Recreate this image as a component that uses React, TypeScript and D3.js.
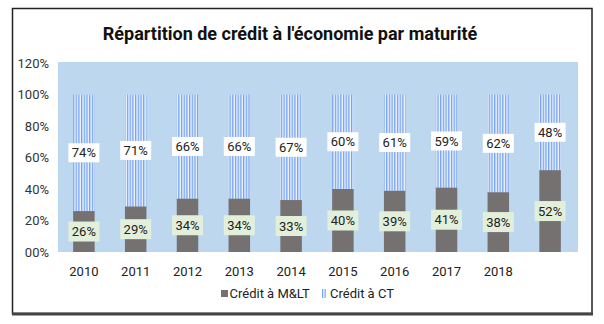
import React from "react";
import * as d3 from "d3";

const categories = ["2010", "2011", "2012", "2013", "2014", "2015", "2016", "2017", "2018", ""];
const creditMLT = [26, 29, 34, 34, 33, 40, 39, 41, 38, 52];
const creditCT = [74, 71, 66, 66, 67, 60, 61, 59, 62, 48];
const yTicks = [0, 20, 40, 60, 80, 100, 120];
const yTickLabels = ["00%", "20%", "40%", "60%", "80%", "100%", "120%"];
const seriesNames = ["Crédit à M&LT", "Crédit à CT"];
const title = "Répartition de crédit à l'économie par maturité";

const W = 604;
const H = 324;
const plot = { left: 58, right: 578, top: 62, bottom: 252 };
const font = "Roboto, 'Noto Sans', sans-serif";

export default function App() {
  const x = d3
    .scaleBand<string>()
    .domain(categories.map((c, i) => c + "#" + i))
    .range([plot.left, 576])
    .paddingInner(0.585)
    .paddingOuter(0.2925);
  const y = d3.scaleLinear().domain([0, 120]).range([252, 63]);
  const keys = categories.map((c, i) => c + "#" + i);
  const bw = x.bandwidth();

  return (
    <svg
      width={W}
      height={H}
      style={{ position: "absolute", left: 0, top: 0, background: "#fff" }}
      fontFamily={font}
    >
      <defs>
        <pattern id="ctStripes" patternUnits="userSpaceOnUse" width={2.7} height={10}>
          <rect x={0} y={0} width={2.7} height={10} fill="#eef4fd" />
          <rect x={0} y={0} width={1.3} height={10} fill="#74a2ef" />
        </pattern>
      </defs>
      <rect x={0} y={0} width={W} height={H} fill="#fff" />
      {/* outer frame */}
      <rect x={12.5} y={8.5} width={579.5} height={305} fill="none" stroke="#222" strokeWidth={1.5} />
      <line x1={12} x2={593} y1={314} y2={314} stroke="#444" strokeWidth={3} />
      {/* title */}
      <text x={290} y={40} textAnchor="middle" fontSize={18} fontWeight="bold" fill="#111">
        {title}
      </text>
      {/* plot background */}
      <rect
        x={plot.left}
        y={plot.top}
        width={plot.right - plot.left}
        height={plot.bottom - plot.top}
        fill="#bdd7ee"
      />
      {/* y ticks */}
      {yTicks.map((t, i) => (
        <text
          key={t}
          x={49}
          y={y(t)}
          dy="0.35em"
          textAnchor="end"
          fontSize={13}
          fill="#333"
        >
          {yTickLabels[i]}
        </text>
      ))}
      {/* bars */}
      {keys.map((k, i) => {
        const x0 = x(k)!;
        const m = creditMLT[i];
        const c = creditCT[i];
        return (
          <g key={k}>
            <rect x={x0} y={y(m)} width={bw} height={y(0) - y(m)} fill="#767171" />
            <rect x={x0} y={y(m + c)} width={bw} height={y(m) - y(m + c)} fill="url(#ctStripes)" />
          </g>
        );
      })}
      {/* labels */}
      {keys.map((k, i) => {
        const cx = x(k)! + bw / 2;
        const m = creditMLT[i];
        const c = creditCT[i];
        const ym = (y(0) + y(m)) / 2;
        const yc = (y(m) + y(m + c)) / 2;
        return (
          <g key={"l" + k} fontSize={13} fill="#222">
            <rect x={cx - 15.5} y={ym - 10} width={31} height={20} fill="#e2efda" />
            <text x={cx} y={ym} dy="0.35em" textAnchor="middle" fill="#222">
              {m}%
            </text>
            <rect x={cx - 15.5} y={yc - 9.5} width={31} height={19} fill="#ffffff" />
            <text x={cx} y={yc} dy="0.35em" textAnchor="middle" fill="#222">
              {c}%
            </text>
          </g>
        );
      })}
      {/* x labels */}
      {keys.map((k, i) => (
        <text
          key={"x" + k}
          x={x(k)! + bw / 2}
          y={271}
          dy="0.35em"
          textAnchor="middle"
          fontSize={13}
          fill="#222"
        >
          {categories[i]}
        </text>
      ))}
      {/* legend */}
      <rect x={221} y={290} width={7} height={7} fill="#767171" />
      <text x={229.5} y={293.5} dy="0.35em" fontSize={13} fill="#222">
        {seriesNames[0]}
      </text>
      <rect x={322} y={289} width={1.2} height={9} fill="#74a2ef" />
      <rect x={324.5} y={289} width={1.2} height={9} fill="#74a2ef" />
      <text x={330} y={293.5} dy="0.35em" fontSize={13} fill="#222">
        {seriesNames[1]}
      </text>
    </svg>
  );
}
